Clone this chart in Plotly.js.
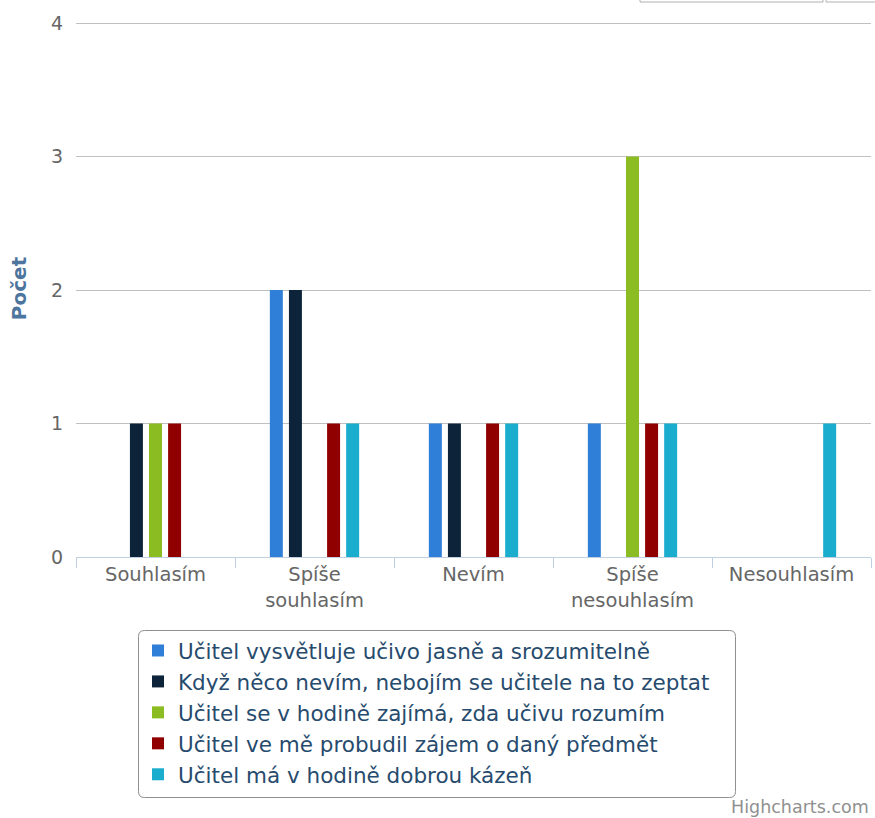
<!DOCTYPE html>
<html>
<head>
<meta charset="utf-8">
<script src="https://cdn.plot.ly/plotly-3.0.1.min.js"></script>
<style>
html,body{margin:0;padding:0;background:#fff;}
#chart{width:875px;height:818px;}
</style>
</head>
<body>
<div id="chart"></div>
<script>
const categories = ["Souhlasím", "Spíše<br>souhlasím", "Nevím", "Spíše<br>nesouhlasím", "Nesouhlasím"];
const seriesNames = [
  "Učitel vysvětluje učivo jasně a srozumitelně",
  "Když něco nevím, nebojím se učitele na to zeptat",
  "Učitel se v hodině zajímá, zda učivu rozumím",
  "Učitel ve mě probudil zájem o daný předmět",
  "Učitel má v hodině dobrou kázeň"
];
const vysvetluje = [0, 2, 1, 1, 0];
const nebojim = [1, 2, 1, 0, 0];
const zajima = [1, 0, 0, 3, 0];
const probudil = [1, 1, 1, 1, 0];
const kazen = [0, 1, 1, 1, 1];
const seriesValues = [vysvetluje, nebojim, zajima, probudil, kazen];
const colors = ["#2f7ed8", "#0d233a", "#8bbc21", "#910000", "#1aadce"];
const yTicks = [0, 1, 2, 3, 4];

const font = "DejaVu Sans, Verdana, sans-serif";

const traces = seriesValues.map((vals, i) => ({
  type: "bar",
  name: seriesNames[i],
  x: categories,
  y: vals,
  marker: {color: colors[i], line: {width: 0}},
  hoverinfo: "x+y+name"
}));

const L = 76, plotW = 795, axisY = 557;
const plotH = 818 - 20 - 261;
const px = v => (v - L) / plotW;
const py = v => (axisY - v) / plotH;

function roundedRect(x0, y0, x1, y1, r) {
  const p = (x, y) => px(x) + "," + py(y);
  return "M" + p(x0 + r, y0) + " L" + p(x1 - r, y0) + " Q" + p(x1, y0) + " " + p(x1, y0 + r) +
    " L" + p(x1, y1 - r) + " Q" + p(x1, y1) + " " + p(x1 - r, y1) +
    " L" + p(x0 + r, y1) + " Q" + p(x0, y1) + " " + p(x0, y1 - r) +
    " L" + p(x0, y0 + r) + " Q" + p(x0, y0) + " " + p(x0 + r, y0) + " Z";
}

const layout = {
  width: 875,
  height: 818,
  margin: {l: 76, r: 4, t: 20, b: 261},
  paper_bgcolor: "#ffffff",
  plot_bgcolor: "#ffffff",
  barmode: "group",
  bargap: 0.40,
  bargroupgap: 0.32,
  font: {family: font, size: 19, color: "#666666"},
  xaxis: {
    type: "category",
    showgrid: false,
    showline: true,
    linecolor: "#C0D0E0",
    linewidth: 1,
    ticks: "outside",
    tickson: "boundaries",
    ticklen: 10,
    tickcolor: "#C0D0E0",
    tickfont: {family: font, size: 19.5, color: "#666666"},
    fixedrange: true
  },
  yaxis: {
    range: [0, 4.0225],
    tickvals: yTicks,
    ticktext: yTicks.map(String),
    showgrid: true,
    gridcolor: "#C0C0C0",
    gridwidth: 1,
    zeroline: false,
    showline: false,
    ticks: "",
    ticklabelstandoff: 12,
    tickfont: {family: font, size: 19, color: "#666666"},
    title: {text: "<b>Počet</b>", font: {family: font, size: 20, color: "#4d759e"}, standoff: 18},
    fixedrange: true
  },
  showlegend: true,
  legend: {
    orientation: "v",
    x: px(138),
    xanchor: "left",
    y: py(630),
    yanchor: "top",
    borderwidth: 0,
    bgcolor: "rgba(0,0,0,0)",
    font: {family: font, size: 21.5, color: "#274b6d"},
    traceorder: "normal",
    itemwidth: 30
  },
  annotations: [{
    text: "Highcharts.com",
    xref: "paper", yref: "paper",
    x: 1, xanchor: "right",
    y: py(807), yanchor: "middle",
    showarrow: false,
    font: {family: font, size: 17.5, color: "#909090"}
  }],
  shapes: [{
    type: "path", xref: "paper", yref: "paper",
    path: roundedRect(138.5, 630.5, 735.5, 797.5, 6),
    line: {color: "#909090", width: 1}, fillcolor: "rgba(0,0,0,0)"
  }, {
    type: "rect", xref: "paper", yref: "paper",
    x0: px(640), x1: px(823),
    y0: py(2), y1: py(-10),
    line: {color: "#b0b0b0", width: 1}, fillcolor: "#ffffff"
  }, {
    type: "rect", xref: "paper", yref: "paper",
    x0: px(826), x1: px(880),
    y0: py(2), y1: py(-10),
    line: {color: "#b0b0b0", width: 1}, fillcolor: "#ffffff"
  }]
};

Plotly.newPlot("chart", traces, layout, {displayModeBar: false, responsive: false});
</script>
</body>
</html>
